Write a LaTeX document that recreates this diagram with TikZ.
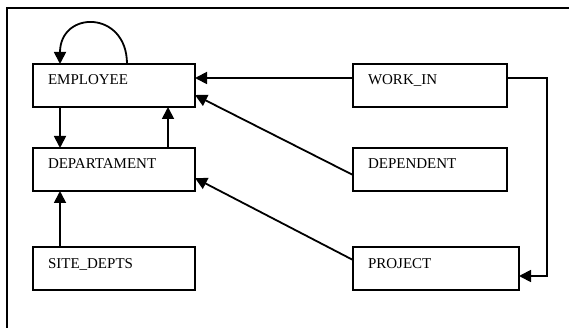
\documentclass[tikz,border=0pt]{standalone}
\usepackage{fontspec}
\setmainfont{Liberation Serif}
\usetikzlibrary{arrows.meta,calc}
\begin{document}
\begin{tikzpicture}[x=1pt,y=-1pt,
  box/.style={draw, line width=1.8pt, anchor=north west, align=left,
    inner xsep=15pt, inner ysep=0pt, outer sep=0pt, text height=10pt, text depth=11pt,
    minimum height=43pt, font=\fontsize{15}{17}\selectfont},
  arr/.style={line width=1.8pt, -{Triangle[length=12pt,width=12pt]}},
  frame/.style={line width=1.8pt}]
\useasboundingbox (0,0) rectangle (569,328);
\draw[frame] (7,328) -- (7,8) -- (569,8);
\node[box, text width=132pt] (emp) at (33,64) {EMPLOYEE};
\node[box, text width=132pt] (dep) at (33,148) {DEPARTAMENT};
\node[box, text width=132pt] (site) at (33,247) {SITE\_DEPTS};
\node[box, text width=124pt] (work) at (353,64) {WORK\_IN};
\node[box, text width=124pt] (dept) at (353,148) {DEPENDENT};
\node[box, text width=136pt] (proj) at (353,247) {PROJECT};
% self loop
\draw[arr] ($(emp.north west)+(94,0)$) .. controls +(0,-54) and +(0,-54) .. ($(emp.north west)+(27,0)$);
\draw[arr] ($(emp.south west)+(27,0)$) -- ($(dep.north west)+(27,0)$);
\draw[arr] ($(dep.north west)+(135,0)$) -- ($(emp.south west)+(135,0)$);
\draw[arr] ($(site.north west)+(27,0)$) -- ($(dep.south west)+(27,0)$);
\draw[arr] ($(work.north west)+(0,14)$) -- ($(emp.north east)+(0,14)$);
\draw[arr] ($(dept.north west)+(0,27)$) -- ($(emp.north east)+(0,31)$);
\draw[arr] ($(proj.north west)+(0,13)$) -- ($(dep.north east)+(0,30)$);
\coordinate (corner) at ($(proj.north east)+(28,29)$);
\draw[arr] ($(work.north east)+(0,14)$) -| (corner) -- ($(proj.north east)+(0,29)$);
\end{tikzpicture}
\end{document}
